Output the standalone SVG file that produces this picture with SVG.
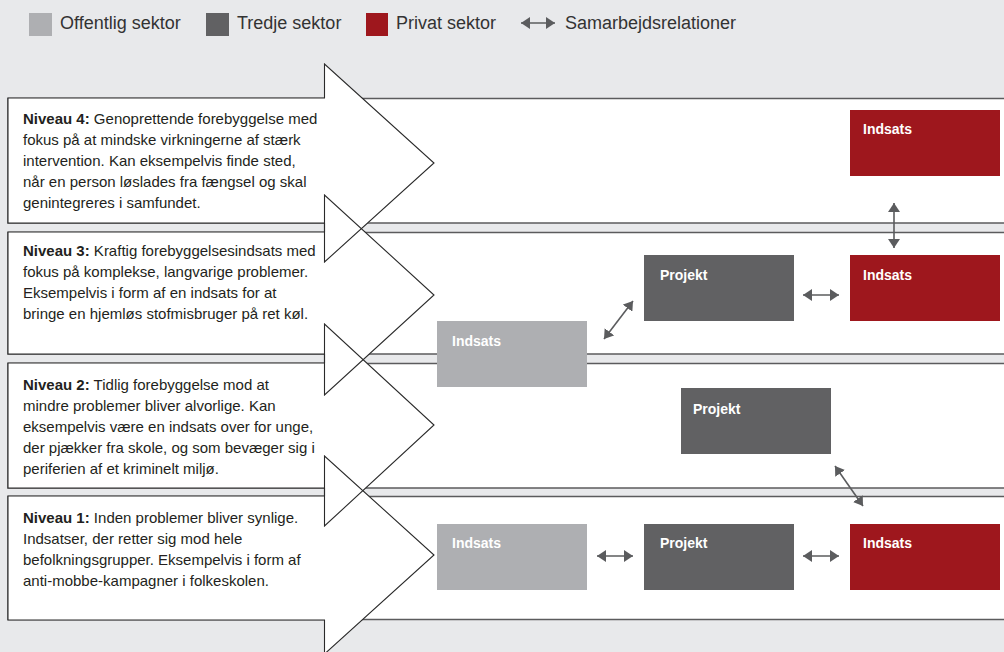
<svg xmlns="http://www.w3.org/2000/svg" width="1004" height="652" viewBox="0 0 1004 652">
<defs>
<style>
.bg{fill:#e8e9eb}
.band{fill:#fff;stroke:#5b5b5d;stroke-width:1.5}
.afill{fill:#fff;stroke:none}
.aline{fill:none;stroke:#2a2a2a;stroke-width:1.1}
.txt{font-family:"Liberation Sans",Arial,sans-serif;font-size:15px;fill:#231f20}
.b{font-weight:bold}
.leg{font-family:"Liberation Sans",Arial,sans-serif;font-size:18px;fill:#333}
.lbl{font-family:"Liberation Sans",Arial,sans-serif;font-size:14px;font-weight:bold;fill:#fff}
.pub{fill:#aeafb2}
.third{fill:#616163}
.priv{fill:#9e171d}
.con{stroke:#5b5c5e;stroke-width:1.6;fill:none;marker-start:url(#ah);marker-end:url(#ah)}
</style>
<marker id="ah" markerUnits="userSpaceOnUse" markerWidth="10" markerHeight="12" refX="9" refY="6" orient="auto-start-reverse" viewBox="0 0 10 12">
<path d="M0,0 L9,6 L0,12 Z" fill="#5b5c5e"/>
</marker>
</defs>
<rect class="bg" x="0" y="0" width="1004" height="652"/>

<g id="legend">
<rect class="pub" x="29" y="13" width="23" height="23"/>
<text class="leg" x="60" y="29">Offentlig sektor</text>
<rect class="third" x="206" y="13" width="23" height="23"/>
<text class="leg" x="237" y="29">Tredje sektor</text>
<rect class="priv" x="366" y="13" width="22" height="23"/>
<text class="leg" x="396" y="29">Privat sektor</text>
<line class="con" x1="521" y1="23" x2="555" y2="23"/>
<text class="leg" x="565" y="29">Samarbejdsrelationer</text>
</g>

<g id="bands">
<rect class="band" x="8" y="98.5" width="1010" height="124.5"/>
<rect class="band" x="8" y="232.5" width="1010" height="121.5"/>
<rect class="band" x="8" y="363.5" width="1010" height="124.5"/>
<rect class="band" x="8" y="496.5" width="1010" height="123"/>
</g>

<g id="arrow-fills">
<polygon class="afill" points="8,98 324.5,98 324.5,64 434,163 324.5,262 324.5,223 8,223"/>
<polygon class="afill" points="8,232 324.5,232 324.5,195 434,295 324.5,395 324.5,354 8,354"/>
<polygon class="afill" points="8,363 324.5,363 324.5,324 434,425 324.5,526 324.5,488 8,488"/>
<polygon class="afill" points="8,496 324.5,496 324.5,456 434,555 324.5,654 324.5,620 8,620"/>
</g>

<g id="niveau4">
<polygon class="aline" points="8,98 324.5,98 324.5,64 434,163 324.5,262 324.5,223 8,223"/>
<text class="txt" x="23" y="124"><tspan class="b">Niveau 4:</tspan> Genoprettende forebyggelse med</text>
<text class="txt" x="23" y="145">fokus på at mindske virkningerne af stærk</text>
<text class="txt" x="23" y="166">intervention. Kan eksempelvis finde sted,</text>
<text class="txt" x="23" y="187">når en person løslades fra fængsel og skal</text>
<text class="txt" x="23" y="208">genintegreres i samfundet.</text>
</g>

<g id="niveau3">
<polygon class="aline" points="8,232 324.5,232 324.5,195 434,295 324.5,395 324.5,354 8,354"/>
<text class="txt" x="23" y="256"><tspan class="b">Niveau 3:</tspan> Kraftig forebyggelsesindsats med</text>
<text class="txt" x="23" y="277">fokus på komplekse, langvarige problemer.</text>
<text class="txt" x="23" y="298">Eksempelvis i form af en indsats for at</text>
<text class="txt" x="23" y="319">bringe en hjemløs stofmisbruger på ret køl.</text>
</g>

<g id="niveau2">
<polygon class="aline" points="8,363 324.5,363 324.5,324 434,425 324.5,526 324.5,488 8,488"/>
<text class="txt" x="23" y="390"><tspan class="b">Niveau 2:</tspan> Tidlig forebyggelse mod at</text>
<text class="txt" x="23" y="411">mindre problemer bliver alvorlige. Kan</text>
<text class="txt" x="23" y="432">eksempelvis være en indsats over for unge,</text>
<text class="txt" x="23" y="453">der pjækker fra skole, og som bevæger sig i</text>
<text class="txt" x="23" y="474">periferien af et kriminelt miljø.</text>
</g>

<g id="niveau1">
<polygon class="aline" points="8,496 324.5,496 324.5,456 434,555 324.5,654 324.5,620 8,620"/>
<text class="txt" x="23" y="523"><tspan class="b">Niveau 1:</tspan> Inden problemer bliver synlige.</text>
<text class="txt" x="23" y="544">Indsatser, der retter sig mod hele</text>
<text class="txt" x="23" y="565">befolkningsgrupper. Eksempelvis i form af</text>
<text class="txt" x="23" y="586">anti-mobbe-kampagner i folkeskolen.</text>
</g>

<g id="n4-indsats">
<rect class="priv" x="850" y="110" width="150" height="66"/>
<text class="lbl" x="863" y="134">Indsats</text>
</g>
<g id="n3-projekt">
<rect class="third" x="644" y="255" width="150" height="66"/>
<text class="lbl" x="660" y="280">Projekt</text>
</g>
<g id="n3-indsats">
<rect class="priv" x="850" y="255" width="150" height="66"/>
<text class="lbl" x="863" y="280">Indsats</text>
</g>
<g id="n32-indsats">
<rect class="pub" x="437" y="321" width="150" height="66"/>
<text class="lbl" x="452" y="346">Indsats</text>
</g>
<g id="n2-projekt">
<rect class="third" x="681" y="388" width="150" height="66"/>
<text class="lbl" x="693" y="414">Projekt</text>
</g>
<g id="n1-indsats-off">
<rect class="pub" x="437" y="524" width="150" height="66"/>
<text class="lbl" x="452" y="548">Indsats</text>
</g>
<g id="n1-projekt">
<rect class="third" x="644" y="524" width="150" height="66"/>
<text class="lbl" x="660" y="548">Projekt</text>
</g>
<g id="n1-indsats-priv">
<rect class="priv" x="850" y="524" width="150" height="66"/>
<text class="lbl" x="863" y="548">Indsats</text>
</g>

<g id="connectors">
<line class="con" x1="894" y1="203" x2="894" y2="248"/>
<line class="con" x1="803" y1="295" x2="839" y2="295"/>
<line class="con" x1="604" y1="339" x2="633" y2="301"/>
<line class="con" x1="835" y1="466" x2="863" y2="506"/>
<line class="con" x1="597" y1="556" x2="633" y2="556"/>
<line class="con" x1="803" y1="556" x2="839" y2="556"/>
</g>
</svg>
